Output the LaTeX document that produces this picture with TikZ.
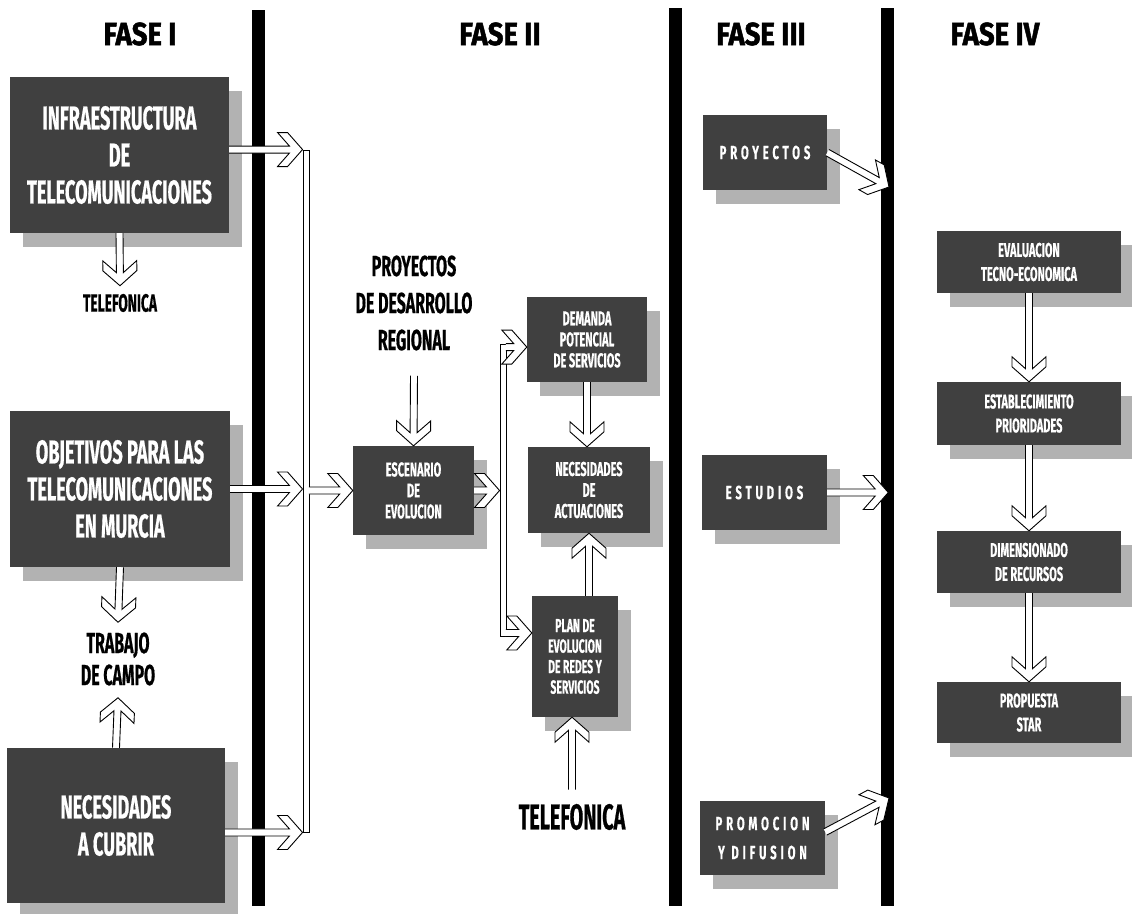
\documentclass[tikz,border=0pt]{standalone}
\usepackage{fontspec}
\setmainfont{Fira Sans}
\newfontfamily\hfont[FakeStretch=0.86,FakeBold=1.5]{Fira Sans}
\newfontfamily\nfont[FakeStretch=0.55,FakeBold=0.5]{Fira Sans}
\newfontfamily\spfont[FakeStretch=0.6,LetterSpace=20,FakeBold=0.4]{Fira Sans}
\usetikzlibrary{shadows,calc}

\newcommand\barrow[2]{%
  \path[harrow] let \p1=(#1), \p2=(#2),
    \n1={atan2(\y2-\y1,\x2-\x1)}, \n2={veclen(\x2-\x1,\y2-\y1)} in
    ([shift={(\p2)},rotate=\n1]-\n2,3.5) --
    ([shift={(\p2)},rotate=\n1]-13.1,3.5) --
    ([shift={(\p2)},rotate=\n1]-25,17) --
    ([shift={(\p2)},rotate=\n1]-15,17) --
    (\p2) --
    ([shift={(\p2)},rotate=\n1]-15,-17) --
    ([shift={(\p2)},rotate=\n1]-25,-17) --
    ([shift={(\p2)},rotate=\n1]-13.1,-3.5) --
    ([shift={(\p2)},rotate=\n1]-\n2,-3.5);
}

\begin{document}
\begin{tikzpicture}[x=1pt,y=-1pt,
  dbox/.style={fill=black!75, text=white, align=center, inner sep=0pt,
     drop shadow={shadow xshift=13pt, shadow yshift=-14pt, fill=black!30, opacity=1}},
  head/.style={font=\hfont\bfseries\fontsize{32}{36}\selectfont, inner sep=0pt},
  lbl/.style={align=center, inner sep=0pt},
  big/.style={font=\nfont\bfseries\fontsize{33}{37}\selectfont},
  mid/.style={font=\nfont\bfseries\fontsize{20}{21}\selectfont},
  small/.style={font=\nfont\bfseries\fontsize{19}{20.5}\selectfont},
  four/.style={font=\nfont\bfseries\fontsize{20}{24}\selectfont},
  spaced/.style={font=\spfont\bfseries\fontsize{19}{29}\selectfont},
  bar/.style={fill=black, draw=none, inner sep=0pt, minimum width=13pt},
  coll/.style={draw=black, fill=white, line width=0.9pt, inner sep=0pt, minimum width=6pt},
  harrow/.style={draw=black, fill=white, line width=0.9pt, line join=miter},
]
\useasboundingbox (0,0) rectangle (1132,913);

% vertical bars
\node[bar, minimum height=896pt] (bar1) at (258.5,458) {};
\node[bar, minimum height=898pt] (bar2) at (675.5,457) {};
\node[bar, minimum height=898pt] (bar3) at (887,457) {};

% headings
\node[head] (f1) at (140,34) {FASE I};
\node[head] (f2) at (500,34) {FASE II};
\node[head] (f3) at (761,34) {FASE III};
\node[head] (f4) at (995,34) {FASE IV};

% Fase I
\node[dbox, big, minimum width=219pt, minimum height=156pt] (b1) at (119.5,155) {INFRAESTRUCTURA\\DE\\TELECOMUNICACIONES};
\node[dbox, big, minimum width=220pt, minimum height=156pt] (b2) at (120,489) {OBJETIVOS PARA LAS\\TELECOMUNICACIONES\\EN MURCIA};
\node[dbox, big, minimum width=218pt, minimum height=155pt] (b3) at (116,825.5) {NECESIDADES\\A CUBRIR};
\node[lbl, font=\nfont\bfseries\fontsize{25}{28}\selectfont] (tel1) at (120,303) {TELEFONICA};
\node[lbl, font=\nfont\bfseries\fontsize{29}{32}\selectfont] (trab) at (118,659) {TRABAJO\\DE CAMPO};

% collectors
\node[coll, minimum height=682pt] (col1) at (306,491) {};
\node[coll, minimum height=292pt] (col2) at (503,490) {};

% Fase II
\node[lbl, font=\nfont\bfseries\fontsize{29}{37}\selectfont] (proj) at (414,303) {PROYECTOS\\DE DESARROLLO\\REGIONAL};
\node[dbox, mid, minimum width=121pt, minimum height=89pt] (esc) at (413.5,490.5) {ESCENARIO\\DE\\EVOLUCION};
\node[dbox, mid, minimum width=120pt, minimum height=85pt] (dem) at (587,339.5) {DEMANDA\\POTENCIAL\\DE SERVICIOS};
\node[dbox, mid, minimum width=122pt, minimum height=86pt] (nec) at (589,490) {NECESIDADES\\DE\\ACTUACIONES};
\node[dbox, small, minimum width=86pt, minimum height=121pt] (plan) at (575,656.5) {PLAN DE\\EVOLUCION\\DE REDES Y\\SERVICIOS};
\node[lbl, font=\nfont\bfseries\fontsize{36}{40}\selectfont] (tel2) at (572,817) {TELEFONICA};

% Fase III
\node[dbox, spaced, minimum width=124pt, minimum height=75pt] (p3a) at (765,152.5) {PROYECTOS};
\node[dbox, spaced, minimum width=125pt, minimum height=75pt] (p3b) at (764.5,492.5) {ESTUDIOS};
\node[dbox, spaced, minimum width=125pt, minimum height=74pt] (p3c) at (762.5,838) {PROMOCION\\Y DIFUSION};
\coordinate (t3a) at (889,187);
\coordinate (t3c) at (889,798);

% Fase IV
\node[dbox, four, minimum width=184pt, minimum height=62pt] (e1) at (1029,262) {EVALUACION\\TECNO-ECONOMICA};
\node[dbox, four, minimum width=184pt, minimum height=63pt] (e2) at (1029,413.5) {ESTABLECIMIENTO\\PRIORIDADES};
\node[dbox, four, minimum width=184pt, minimum height=62pt] (e3) at (1029,562) {DIMENSIONADO\\DE RECURSOS};
\node[dbox, four, minimum width=184pt, minimum height=61pt] (e4) at (1029,712.5) {PROPUESTA\\STAR};

\coordinate (c2t) at ($(col2.north east)+(0,3.5)$);
\coordinate (c2b) at ($(col2.south east)+(0,-3.5)$);

% arrows Fase I
\barrow{b1.south}{$(tel1.north)+(0,-8)$}
\barrow{b2.south}{$(trab.north)+(0,-10)$}
\barrow{b3.north}{$(trab.south)+(0,12)$}
\barrow{b1.east |- col1.north west}{col1.north west}
\barrow{b2.east}{b2.east -| col1.west}
\barrow{b3.east |- col1.south west}{col1.south west}
% arrows Fase II
\barrow{$(col1.east |- esc.west)+(-0.6,0)$}{esc.west}
\barrow{$(proj.south)+(0,25)$}{esc.north}
\barrow{esc.east}{esc.east -| col2.west}
\barrow{$(c2t)+(-0.6,0)$}{c2t -| dem.west}
\barrow{$(c2b)+(-0.6,0)$}{c2b -| plan.west}
\barrow{dem.south}{dem.south |- nec.north}
\barrow{plan.north -| nec.south}{nec.south}
\barrow{$(tel2.north)+(0,-14)$}{tel2.north |- plan.south}
% arrows Fase III
\barrow{p3a.east}{t3a}
\barrow{p3b.east}{$(bar3.west |- p3b.east)+(8,0)$}
\barrow{$(p3c.east)+(0,-6)$}{t3c}
% arrows Fase IV
\barrow{e1.south}{e2.north}
\barrow{e2.south}{e3.north}
\barrow{e3.south}{e4.north}
\end{tikzpicture}
\end{document}
